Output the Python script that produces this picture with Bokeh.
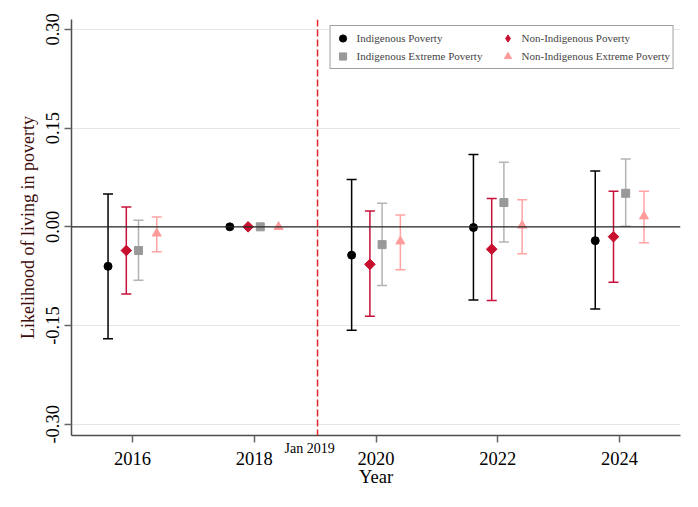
from bokeh.plotting import figure
from bokeh.models import (Span, FixedTicker, NumeralTickFormatter, Range1d, LinearAxis,
                          ColumnDataSource, Legend, LegendItem)
from bokeh.transform import dodge
from bokeh.embed import file_html
from bokeh.resources import INLINE

# ---------------- data ----------------
years = [2016, 2018, 2020, 2022, 2024]

ind_pov = [-0.060, 0.000, -0.043, -0.001, -0.021]
ind_pov_lo = [-0.170, 0.000, -0.157, -0.111, -0.125]
ind_pov_hi = [0.050, 0.000, 0.072, 0.110, 0.085]

non_pov = [-0.036, 0.000, -0.057, -0.034, -0.015]
non_pov_lo = [-0.102, 0.000, -0.136, -0.112, -0.084]
non_pov_hi = [0.030, 0.000, 0.024, 0.043, 0.054]

ind_ext = [-0.036, 0.000, -0.027, 0.037, 0.051]
ind_ext_lo = [-0.081, 0.000, -0.089, -0.023, 0.001]
ind_ext_hi = [0.010, 0.000, 0.036, 0.098, 0.103]

non_ext = [-0.010, 0.000, -0.022, 0.002, 0.016]
non_ext_lo = [-0.038, 0.000, -0.065, -0.041, -0.024]
non_ext_hi = [0.015, 0.000, 0.018, 0.041, 0.054]

y_ticks = [-0.30, -0.15, 0.00, 0.15, 0.30]
event_x = 2019.04
event_label = "Jan 2019"

FONT = "Liberation Serif"

p = figure(width=690, height=499, output_backend="svg", toolbar_location=None,
           x_range=Range1d(2015, 2025), y_range=Range1d(-0.317, 0.315),
           min_border_left=71, min_border_right=10, min_border_top=19,
           min_border_bottom=64)
p.outline_line_color = None
p.background_fill_color = "white"
p.border_fill_color = "white"

# grid
p.xgrid.visible = False
p.ygrid.grid_line_color = "#e6e6e6"
p.ygrid.grid_line_width = 1

# zero line & event line
p.add_layout(Span(location=0, dimension="width", line_color="#262626", line_width=1.2))
p.add_layout(Span(location=event_x, dimension="height", line_color="#e3262b",
                  line_width=1.5, line_dash="7 3"))

series = [
    ("Indigenous Poverty", ind_pov, ind_pov_lo, ind_pov_hi, -0.4, "circle", 0,
     "#000000", "#000000", 8),
    ("Non-Indigenous Poverty", non_pov, non_pov_lo, non_pov_hi, -0.1, "square", 0.785398,
     "#c8102e", "#c8103a", 7.5),
    ("Indigenous Extreme Poverty", ind_ext, ind_ext_lo, ind_ext_hi, 0.1, "square", 0,
     "#999999", "#b3b3b3", 8),
    ("Non-Indigenous Extreme Poverty", non_ext, non_ext_lo, non_ext_hi, 0.4, "triangle", 0,
     "#ff9b9b", "#ffa3a3", 9),
]

items = {}
for name, est, lo, hi, off, marker, ang, col, wcol, size in series:
    keep = [i for i in range(len(years)) if hi[i] != lo[i]]
    wsrc = ColumnDataSource(dict(x=[years[i] for i in keep],
                                 lo=[lo[i] for i in keep],
                                 hi=[hi[i] for i in keep]))
    xd = dodge("x", off, range=p.x_range)
    p.segment(x0=xd, y0="lo", x1=xd, y1="hi", source=wsrc, line_color=wcol, line_width=1.5)
    p.scatter(x=xd, y="lo", source=wsrc, marker="dash", size=10, line_color=wcol, line_width=1.5)
    p.scatter(x=xd, y="hi", source=wsrc, marker="dash", size=10, line_color=wcol, line_width=1.5)
    msrc = ColumnDataSource(dict(x=years, y=est))
    r = p.scatter(x=dodge("x", off, range=p.x_range), y="y", source=msrc, marker=marker,
                  angle=ang, size=size, fill_color=col, line_color=col)
    items[name] = r

# the legend shows a diamond for the rotated-square series
items["Non-Indigenous Poverty"] = p.scatter(
    x=[float("nan")], y=[float("nan")], marker="diamond", size=10,
    fill_color="#c8102e", line_color="#c8102e")

legend = Legend(items=[LegendItem(label=n, renderers=[items[n]]) for n in
                       ["Indigenous Poverty", "Non-Indigenous Poverty",
                        "Indigenous Extreme Poverty", "Non-Indigenous Extreme Poverty"]],
                location="top_right", orientation="horizontal", ncols=2,
                glyph_width=18, glyph_height=18, spacing=0, padding=3,
                label_standoff=5, label_width=142, margin=6,
                label_text_font=FONT, label_text_font_size="11px",
                border_line_color="#404040", border_line_width=1,
                background_fill_color="white", background_fill_alpha=1)
p.add_layout(legend)

# y axis
ya = p.yaxis[0]
ya.axis_line_color = "#4d4d4d"
ya.axis_line_width = 1.5
ya.major_tick_line_color = "#666666"
ya.major_tick_line_width = 1.5
ya.major_tick_out = 7
ya.major_tick_in = 0
ya.minor_tick_line_color = None
ya.major_label_text_font = FONT
ya.major_label_text_font_size = "18.5px"
ya.major_label_text_color = "black"
ya.axis_label_text_font = FONT
ya.axis_label_text_font_size = "18px"
ya.axis_label_text_font_style = "normal"
ya.ticker = FixedTicker(ticks=y_ticks)
ya.formatter = NumeralTickFormatter(format="0.00")
ya.major_label_orientation = "vertical"
ya.axis_label = "Likelihood of living in poverty"
ya.axis_label_text_color = "#3d0c0c"
ya.major_label_standoff = 5
ya.axis_label_standoff = 6

# inner x axis: axis line, year tick marks and the event label
jan_x = round(event_x - 0.13, 2)
jan_ax = LinearAxis(ticker=FixedTicker(ticks=[jan_x], minor_ticks=years),
                    major_label_overrides={jan_x: event_label})
jan_ax.axis_line_color = "#4d4d4d"
jan_ax.axis_line_width = 1.5
jan_ax.major_tick_line_color = None
jan_ax.major_tick_out = 0
jan_ax.major_tick_in = 0
jan_ax.minor_tick_line_color = "#666666"
jan_ax.minor_tick_line_width = 1.5
jan_ax.minor_tick_out = 7
jan_ax.minor_tick_in = 0
jan_ax.major_label_text_font = FONT
jan_ax.major_label_text_font_size = "14px"
jan_ax.major_label_text_color = "black"
jan_ax.major_label_standoff = -2

# outer x axis: year labels and title
xa = p.xaxis[0]
xa.ticker = FixedTicker(ticks=years)
xa.axis_line_color = None
xa.major_tick_line_color = None
xa.minor_tick_line_color = None
xa.major_tick_out = 0
xa.major_tick_in = 0
xa.major_label_text_font = FONT
xa.major_label_text_font_size = "18.5px"
xa.major_label_text_color = "black"
xa.major_label_standoff = -7
xa.axis_label = "Year"
xa.axis_label_text_font = FONT
xa.axis_label_text_font_size = "18.5px"
xa.axis_label_text_font_style = "normal"
xa.axis_label_text_color = "black"
xa.axis_label_standoff = -1

p.below = [jan_ax, xa]

open("out.html", "w").write(file_html(p, INLINE))
